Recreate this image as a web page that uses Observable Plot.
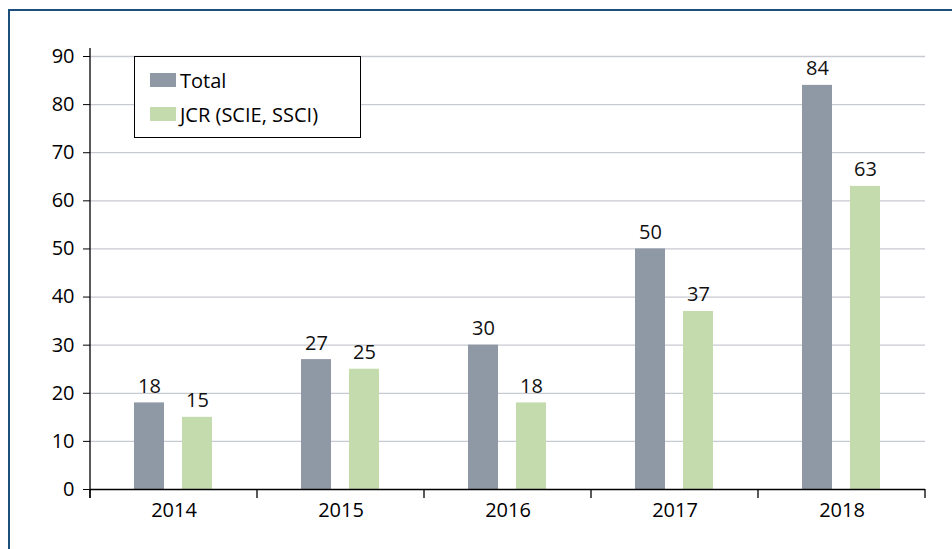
<!DOCTYPE html>
<html><head><meta charset="utf-8">
<script src="https://cdn.jsdelivr.net/npm/d3@7"></script>
<script src="https://cdn.jsdelivr.net/npm/@observablehq/plot@0.6"></script>
<style>
body{margin:0;background:#fff;font-family:"Open Sans",sans-serif;}
#wrap{position:relative;width:952px;height:549px;overflow:hidden;background:#fff;}
#frame{position:absolute;left:8px;top:9px;width:1000px;height:600px;border-left:2px solid #1c4f7c;border-top:2px solid #1c4f7c;box-sizing:border-box;}
#chart{position:absolute;left:0;top:0;}
#legend{position:absolute;left:134px;top:56px;width:227px;height:82px;border:1.3px solid #000;background:#fff;box-sizing:border-box;}
.item{position:absolute;left:15px;display:flex;align-items:center;height:14px;font-size:20px;color:#000;white-space:nowrap;}
.sw{width:26px;height:14px;margin-right:4px;}
</style></head>
<body>
<div id="wrap">
  <div id="frame"></div>
  <div id="chart"></div>
  <div id="legend"></div>
</div>
<script>
const years = ["2014", "2015", "2016", "2017", "2018"];
const seriesNames = ["Total", "JCR (SCIE, SSCI)"];
const totalValues = [18, 27, 30, 50, 84];
const jcrValues = [15, 25, 18, 37, 63];
const yTicks = [0, 10, 20, 30, 40, 50, 60, 70, 80, 90];
const seriesColors = ["#8f98a5", "#c4dbad"];

const rows = years.flatMap((y, i) => [
  {year: y, series: seriesNames[0], value: totalValues[i]},
  {year: y, series: seriesNames[1], value: jcrValues[i]}
]);

const chart = Plot.plot({
  width: 952, height: 549,
  marginLeft: 89, marginRight: 27, marginTop: 56, marginBottom: 60,
  style: {fontFamily: "Open Sans", fontSize: "20px", color: "#000", background: "transparent", overflow: "visible"},
  facet: {data: rows, x: "year"},
  fx: {domain: years, padding: 0, axis: "bottom", tickSize: 0, tickPadding: 13, label: null},
  x: {domain: seriesNames, paddingInner: 0.371, paddingOuter: 0.92, axis: null},
  y: {domain: [0, 90], ticks: yTicks, tickSize: 7, tickPadding: 9, label: null},
  color: {domain: seriesNames, range: seriesColors},
  marks: [
    Plot.ruleY(yTicks.slice(1), {stroke: "#c8cad2", strokeWidth: 1.3}),
    Plot.barY(rows, {x: "series", y: "value", fill: "series"}),
    Plot.ruleY([0], {stroke: "#000", strokeWidth: 1.3}),
    Plot.text(rows, {x: "series", y: "value", text: d => String(d.value), lineAnchor: "bottom", dy: -10, fill: "#111", fontSize: 20})
  ]
});
document.getElementById("chart").appendChild(chart);

// axis line and category boundary ticks from the scales
function toFn(s) {
  if (s.apply) return v => s.apply(v);
  if (s.type === "band") return d3.scaleBand(s.domain, s.range).paddingInner(s.paddingInner || 0).paddingOuter(s.paddingOuter || 0);
  return d3.scaleLinear(s.domain, s.range);
}
const fxS = chart.scale("fx");
const yS = chart.scale("y");
const fx = toFn(fxS), y = toFn(yS);
const bw = fxS.bandwidth != null ? fxS.bandwidth : (fx.bandwidth ? fx.bandwidth() : 0);
const y0 = y(0), yTop = y(90);
const svg = d3.select(chart);
const g = svg.append("g").attr("stroke", "#000").attr("stroke-width", 1.3);
const bounds = years.map(d => fx(d)).concat([fx(years[years.length - 1]) + bw]);
g.append("line").attr("x1", bounds[0]).attr("x2", bounds[0]).attr("y1", yTop - 8).attr("y2", y0 + 9);
bounds.forEach(b => g.append("line").attr("x1", b).attr("x2", b).attr("y1", y0).attr("y2", y0 + 9));

// legend
const legend = document.getElementById("legend");
seriesNames.forEach((name, i) => {
  const it = document.createElement("div");
  it.className = "item";
  it.style.top = (16 + i * 34) + "px";
  it.innerHTML = `<div class="sw" style="background:${seriesColors[i]}"></div><span>${name}</span>`;
  legend.appendChild(it);
});
</script>
</body></html>
